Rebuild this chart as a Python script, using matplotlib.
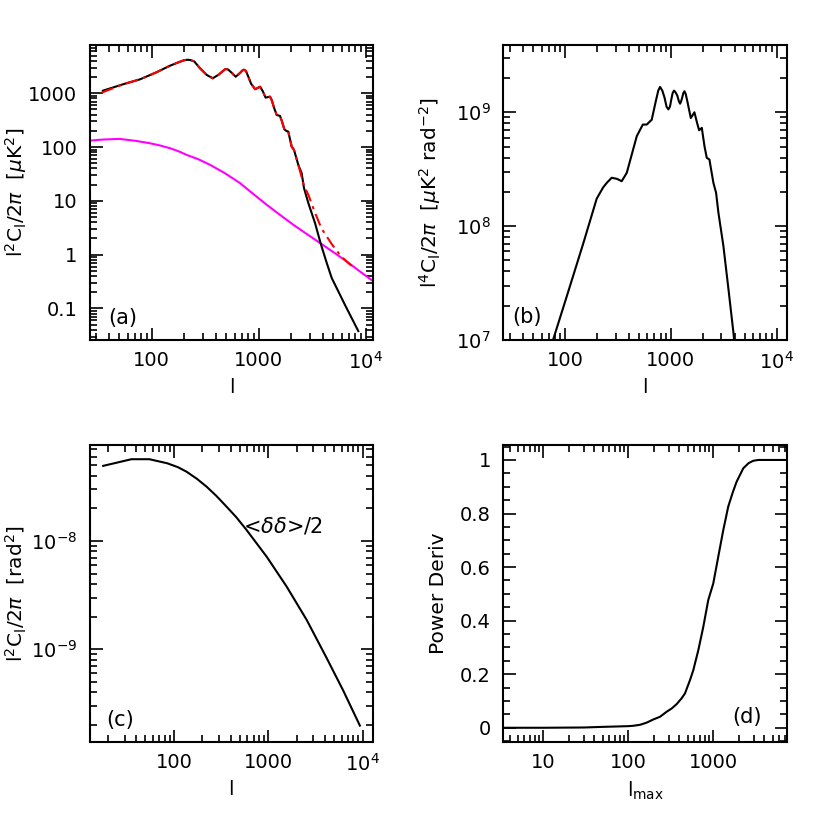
import numpy as np
import matplotlib
matplotlib.use('Agg')
import matplotlib.pyplot as plt
from matplotlib.ticker import FixedLocator, LogLocator, NullFormatter, MultipleLocator, FixedFormatter

plt.rcParams['font.family'] = 'DejaVu Sans'
plt.rcParams['mathtext.fontset'] = 'dejavusans'
plt.rcParams['font.size'] = 14

# (a) l^2 C_l / 2pi in muK^2
a_black_l = [35, 54, 78, 111, 148, 180, 200, 215, 230, 250, 283, 327, 372, 420, 484, 500, 520,
             560, 610, 670, 710, 730, 760, 800, 850, 891, 925, 975, 1030, 1090, 1160, 1220,
             1275, 1322, 1400, 1473, 1581, 1650, 1735, 1810, 1890, 2033, 2138, 2345, 2520,
             2650, 2910, 3360, 3800, 4325, 4810, 6410, 8530]
a_black_v = [1117, 1470, 1820, 2460, 3250, 3800, 4100, 4200, 4150, 3900, 2910, 2190, 1900,
             2200, 2790, 2820, 2750, 2400, 2030, 2400, 2700, 2740, 2600, 2030, 1500, 1325,
             1190, 1250, 1325, 1100, 829, 850, 865, 751, 520, 395, 380, 300, 215, 200, 194,
             102, 88.7, 46.8, 32.8, 17.3, 9.1, 3.87, 1.6, 0.70, 0.37, 0.116, 0.038]
# red (dash-dot) follows black up to l~2500, then its own tail
a_red_start_l, a_red_start_v = 34, 1025
a_red_split = 44
a_red_tail_l = [2650, 2910, 3310, 3850, 4840, 5830, 6880, 7400]
a_red_tail_v = [19, 13, 6.5, 3.1, 1.55, 0.95, 0.70, 0.62]
a_mag_l = [26.5, 35, 50, 70, 96, 120, 148, 180, 212, 270, 351, 480, 669, 900, 1188, 1600,
           2105, 2800, 3740, 5000, 6640, 8800, 11780]
a_mag_v = [132, 138, 142, 131, 118, 107, 95.5, 83, 71.6, 60, 46.8, 33, 21.4, 13.2, 8.47, 5.4,
           3.6, 2.44, 1.65, 1.11, 0.75, 0.49, 0.32]

# (b) l^4 C_l / 2pi
b_l = [72, 77, 104, 149, 199, 214, 230, 248, 276, 310, 343, 383, 476, 543, 591, 659, 720, 760,
       790, 830, 870, 910, 947, 980, 1010, 1040, 1072, 1105, 1150, 1190, 1222, 1250, 1280,
       1310, 1343, 1380, 1430, 1543, 1600, 1668, 1760, 1848, 1900, 1959, 2080, 2183, 2312,
       2420, 2522, 2674, 2813, 3135, 3500, 3900, 4050]
b_v = [8e6, 1.0e7, 2.43e7, 7.1e7, 1.74e8, 1.96e8, 2.2e8, 2.4e8, 2.66e8, 2.6e8, 2.48e8, 2.94e8,
       6.16e8, 7.8e8, 7.8e8, 8.6e8, 1.25e9, 1.55e9, 1.67e9, 1.55e9, 1.35e9, 1.12e9, 1.06e9,
       1.12e9, 1.3e9, 1.48e9, 1.55e9, 1.5e9, 1.4e9, 1.25e9, 1.19e9, 1.25e9, 1.35e9, 1.47e9,
       1.53e9, 1.45e9, 1.25e9, 8.9e8, 9.4e8, 1.0e9, 8.2e8, 6.95e8, 7.1e8, 7.3e8, 5.0e8,
       3.98e8, 3.85e8, 3.0e8, 2.4e8, 1.96e8, 1.31e8, 6.69e7, 2.79e7, 1.16e7, 8e6]

# (c) deflection power
c_l = [17.8, 35.5, 55, 85, 110, 136, 175, 222, 280, 362, 460, 590, 962, 1567, 2552, 4160,
       6240, 9370]
c_v = [4.93e-8, 5.68e-8, 5.68e-8, 5.21e-8, 4.8e-8, 4.36e-8, 3.75e-8, 3.17e-8, 2.62e-8,
       2.07e-8, 1.65e-8, 1.26e-8, 7.16e-9, 3.79e-9, 1.87e-9, 8.3e-10, 4.15e-10, 1.97e-10]

# (d) power derivative vs l_max
d_l = [3, 10, 30, 46, 100, 115, 137, 164, 197, 236, 283, 324, 371, 424, 464, 532, 582, 667,
       763, 873, 1000, 1145, 1311, 1500, 1700, 1883, 2256, 2600, 2956, 3400, 3875, 7500]
d_v = [0, 0, 0.001, 0.003, 0.006, 0.0075, 0.011, 0.019, 0.031, 0.041, 0.060, 0.072, 0.0885,
       0.11, 0.128, 0.178, 0.215, 0.29, 0.377, 0.477, 0.539, 0.639, 0.738, 0.826, 0.88,
       0.919, 0.969, 0.988, 0.997, 1.0, 1.0, 1.0]


def style(ax):
    ax.tick_params(which='both', direction='in', top=True, right=True, width=1.2)
    ax.tick_params(which='major', length=9)
    ax.tick_params(which='minor', length=5)
    ax.tick_params(axis='x', which='major', pad=8)
    ax.tick_params(axis='y', which='major', pad=9)
    for s in ax.spines.values():
        s.set_linewidth(1.5)


def log_ticks(axis, majors, labels):
    axis.set_major_locator(FixedLocator(majors))
    axis.set_major_formatter(FixedFormatter(labels))
    axis.set_minor_locator(LogLocator(base=10, subs=np.arange(2, 10), numticks=50))
    axis.set_minor_formatter(NullFormatter())


fig = plt.figure(figsize=(8.3, 8.3), dpi=100)
axa = fig.add_axes([0.1084, 0.5904, 0.341, 0.3554])
axb = fig.add_axes([0.6064, 0.5904, 0.3422, 0.3554])
axc = fig.add_axes([0.1084, 0.1064, 0.3406, 0.3575])
axd = fig.add_axes([0.6064, 0.1064, 0.3422, 0.3575])

x_lab3 = ['100', '1000', r'$\mathregular{10^4}$']

# (a)
axa.plot(a_mag_l, a_mag_v, color='#ff00ff', lw=1.5)
axa.plot(a_black_l, a_black_v, color='black', lw=1.5)
red_l = [a_red_start_l] + a_black_l[1:a_red_split] + a_red_tail_l
red_v = [a_red_start_v] + a_black_v[1:a_red_split] + a_red_tail_v
axa.plot(red_l, red_v, color='red', lw=1.5, ls=(0, (6, 2.5, 1.5, 2.5)))
axa.set_xscale('log')
axa.set_yscale('log')
axa.set_xlim(26.5, 11700)
axa.set_ylim(0.026, 7900)
log_ticks(axa.xaxis, [100, 1000, 10000], x_lab3)
log_ticks(axa.yaxis, [0.1, 1, 10, 100, 1000], ['0.1', '1', '10', '100', '1000'])
axa.set_xlabel('l')
axa.set_ylabel(r'l$^2$C$_{\rm l}$/2$\pi$  [$\mu$K$^2$]', fontsize=14.5)
axa.text(0.065, 0.075, '(a)', transform=axa.transAxes, ha='left', va='center', fontsize=15)

# (b)
axb.plot(b_l, b_v, color='black', lw=1.5)
axb.set_xscale('log')
axb.set_yscale('log')
axb.set_xlim(26.1, 12600)
axb.set_ylim(1e7, 3.9e9)
log_ticks(axb.xaxis, [100, 1000, 10000], x_lab3)
log_ticks(axb.yaxis, [1e7, 1e8, 1e9], [r'$\mathregular{10^7}$', r'$\mathregular{10^8}$',
                                       r'$\mathregular{10^9}$'])
axb.set_xlabel('l')
axb.set_ylabel(r'l$^4$C$_{\rm l}$/2$\pi$  [$\mu$K$^2$ rad$^{-2}$]', fontsize=14.5)
axb.text(0.03, 0.078, '(b)', transform=axb.transAxes, ha='left', va='center', fontsize=15)

# (c)
axc.plot(c_l, c_v, color='black', lw=1.5)
axc.set_xscale('log')
axc.set_yscale('log')
axc.set_xlim(12.9, 12800)
axc.set_ylim(1.40e-10, 7.69e-8)
log_ticks(axc.xaxis, [100, 1000, 10000], x_lab3)
log_ticks(axc.yaxis, [1e-9, 1e-8], [r'$\mathregular{10^{-9}}$', r'$\mathregular{10^{-8}}$'])
axc.set_xlabel('l')
axc.set_ylabel(r'l$^2$C$_{\rm l}$/2$\pi$  [rad$^2$]', fontsize=14.5)
axc.text(0.059, 0.073, '(c)', transform=axc.transAxes, ha='left', va='center', fontsize=15)
axc.text(0.683, 0.728, r'<$\delta\delta$>/2', transform=axc.transAxes, ha='center',
         va='center', fontsize=15)

# (d)
axd.plot(d_l, d_v, color='black', lw=1.5)
axd.set_xscale('log')
axd.set_xlim(3.38, 7440)
axd.set_ylim(-0.052, 1.056)
log_ticks(axd.xaxis, [10, 100, 1000], ['10', '100', '1000'])
axd.yaxis.set_major_locator(FixedLocator([0, 0.2, 0.4, 0.6, 0.8, 1.0]))
axd.yaxis.set_major_formatter(FixedFormatter(['0', '0.2', '0.4', '0.6', '0.8', '1']))
axd.yaxis.set_minor_locator(MultipleLocator(0.05))
axd.set_xlabel(r'l$_{\rm max}$')
axd.set_ylabel('Power Deriv', fontsize=14.5)
axd.text(0.91, 0.084, '(d)', transform=axd.transAxes, ha='right', va='center', fontsize=15)

for ax in (axa, axb, axc, axd):
    style(ax)
    ax.xaxis.set_label_coords(0.5, -0.129)
    ax.xaxis.label.set_va('top')

axa.yaxis.set_label_coords(-0.215, 0.5)
axb.yaxis.set_label_coords(-0.212, 0.5)
axc.yaxis.set_label_coords(-0.215, 0.5)
axd.yaxis.set_label_coords(-0.195, 0.5)

fig.savefig('out.png', dpi=100)
